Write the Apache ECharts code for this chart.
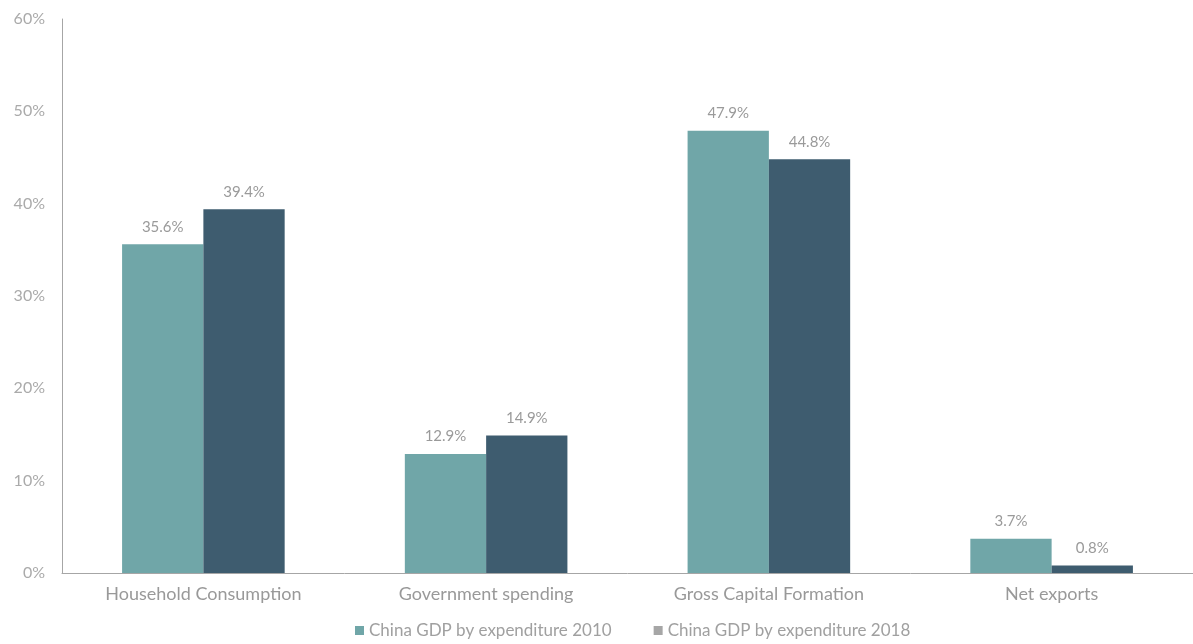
<!DOCTYPE html>
<html><head><meta charset="utf-8">
<script src="https://cdn.jsdelivr.net/npm/echarts@6/dist/echarts.min.js"></script>
<style>html,body{margin:0;padding:0;background:#fff}#c{width:1193px;height:644px}</style>
</head><body><div id="c"></div>
<script>
const categories = ['Household Consumption', 'Government spending', 'Gross Capital Formation', 'Net exports'];
const values2010 = [35.6, 12.9, 47.9, 3.7];
const values2018 = [39.4, 14.9, 44.8, 0.8];
const yTicks = [0, 10, 20, 30, 40, 50, 60];
const seriesNames = ['China GDP by expenditure 2010', 'China GDP by expenditure 2018'];

const font = 'Lato, "Open Sans", sans-serif';
const chart = echarts.init(document.getElementById('c'));
chart.setOption({
  animation: false,
  textStyle: { fontFamily: font },
  grid: { left: 62, right: -6, top: 19, bottom: 71, containLabel: false },
  legend: {
    bottom: 0, left: 350, itemWidth: 9, itemHeight: 9, itemGap: 42, icon: 'rect',
    textStyle: { color: '#a0a0a0', fontSize: 17, fontFamily: font },
    data: [
      { name: seriesNames[0], itemStyle: { color: '#70a6a8' } },
      { name: seriesNames[1], itemStyle: { color: '#a6a6a6' } }
    ]
  },
  xAxis: {
    type: 'category', data: categories,
    axisLine: { lineStyle: { color: '#a6a6a6', width: 1 } },
    axisTick: { show: false },
    axisLabel: { color: '#999999', fontSize: 18, margin: 12 }
  },
  yAxis: {
    type: 'value', min: yTicks[0], max: yTicks[yTicks.length - 1], interval: 10,
    axisLine: { show: true, lineStyle: { color: '#a6a6a6', width: 1 } },
    axisTick: { show: false },
    splitLine: { show: false },
    axisLabel: { color: '#aaaaaa', fontSize: 16, margin: 17, formatter: v => v + '%' }
  },
  series: [
    { name: seriesNames[0], type: 'bar', data: values2010, barGap: '0%', barCategoryGap: '42.5%',
      itemStyle: { color: '#70a6a8' },
      label: { show: true, position: 'top', distance: 10, color: '#9a9a9a', fontSize: 15, formatter: p => p.value.toFixed(1) + '%' } },
    { name: seriesNames[1], type: 'bar', data: values2018, barGap: '0%', barCategoryGap: '42.5%',
      itemStyle: { color: '#3e5c6f' },
      label: { show: true, position: 'top', distance: 10, color: '#9a9a9a', fontSize: 15, formatter: p => p.value.toFixed(1) + '%' } }
  ]
});
</script></body></html>
